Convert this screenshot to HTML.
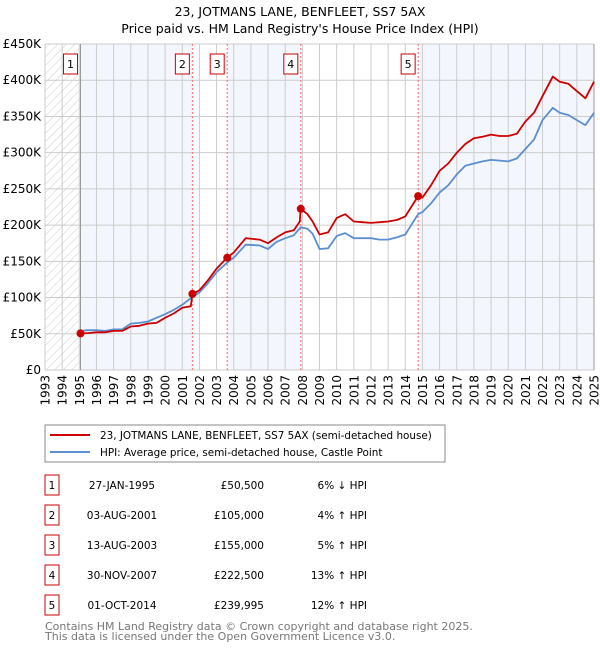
<!DOCTYPE html>
<html><head><meta charset="utf-8"><style>
body{margin:0;background:#fff;font-family:"DejaVu Sans","Liberation Sans",sans-serif;}
svg text{font-family:"DejaVu Sans","Liberation Sans",sans-serif;}
</style></head><body>
<svg id="c" width="600" height="650" xmlns="http://www.w3.org/2000/svg">
<defs><pattern id="hatch" width="6" height="6" patternUnits="userSpaceOnUse" patternTransform="rotate(45)"><line x1="0" y1="0" x2="0" y2="6" stroke="#ccc" stroke-width="1"/></pattern></defs>
<text x="300" y="16" text-anchor="middle" font-size="12.5">23, JOTMANS LANE, BENFLEET, SS7 5AX</text>
<text x="300" y="33" text-anchor="middle" font-size="12.5">Price paid vs. HM Land Registry's House Price Index (HPI)</text>
<g id="plot"></g>
<rect x="45" y="425" width="400" height="37" fill="#fff" stroke="#888"/>
<line x1="50" y1="435" x2="90" y2="435" stroke="#cc0000" stroke-width="2"/>
<text x="100" y="439" font-size="10.4">23, JOTMANS LANE, BENFLEET, SS7 5AX (semi-detached house)</text>
<line x1="50" y1="452" x2="90" y2="452" stroke="#5b8fd0" stroke-width="2"/>
<text x="100" y="456" font-size="10.4">HPI: Average price, semi-detached house, Castle Point</text>
<g id="table"></g>
<text x="45" y="630" font-size="11" fill="#777">Contains HM Land Registry data © Crown copyright and database right 2025.</text>
<text x="45" y="640" font-size="11" fill="#777">This data is licensed under the Open Government Licence v3.0.</text>
</svg>
<script>
const hpiYears=[1995.07,1995.5,1996,1996.5,1997,1997.5,1998,1998.5,1999,1999.5,2000,2000.5,2001,2001.6,2002,2002.5,2003,2003.6,2004,2004.7,2005.5,2006,2006.5,2007,2007.5,2007.9,2008.3,2008.6,2009,2009.5,2010,2010.5,2011,2011.5,2012,2012.5,2013,2013.5,2014,2014.75,2015,2015.5,2016,2016.5,2017,2017.5,2018,2018.5,2019,2019.5,2020,2020.5,2021,2021.5,2022,2022.6,2023,2023.5,2024,2024.5,2025];
const hpiValues=[54,55,55,54,56,56,64,65,67,72,77,83,90,101,107,120,135,148,155,173,172,167,177,182,186,197,195,188,167,168,185,189,182,182,182,180,180,183,187,215,218,230,245,255,270,282,285,288,290,289,288,292,305,318,345,362,355,352,345,338,355];
const redYears=[1995.07,1995.5,1996,1996.5,1997,1997.5,1998,1998.5,1999,1999.5,2000,2000.5,2001,2001.5,2001.6,2002,2002.5,2003,2003.6,2004,2004.7,2005.5,2006,2006.5,2007,2007.5,2007.85,2007.9,2008.3,2008.6,2009,2009.5,2010,2010.5,2011,2011.5,2012,2012.5,2013,2013.5,2014,2014.75,2015,2015.5,2016,2016.5,2017,2017.5,2018,2018.5,2019,2019.5,2020,2020.5,2021,2021.5,2022,2022.6,2023,2023.5,2024,2024.5,2025];
const redValues=[50.5,51,52,52,54,54,60,61,64,65,72,78,86,88,105,110,124,140,155,162,182,180,175,183,190,193,205,222.5,215,205,187,190,210,215,205,204,203,204,205,207,212,240,238,255,275,285,300,312,320,322,325,323,323,326,343,355,378,405,398,395,385,375,398];
const saleYears=[1995.07,2001.59,2003.62,2007.91,2014.75];
const saleValues=[50.5,105,155,222.5,240];
const saleLabels=["1","2","3","4","5"];
const saleDates=["27-JAN-1995","03-AUG-2001","13-AUG-2003","30-NOV-2007","01-OCT-2014"];
const salePrices=["£50,500","£105,000","£155,000","£222,500","£239,995"];
const saleHpi=["6% ↓ HPI","4% ↑ HPI","5% ↑ HPI","13% ↑ HPI","12% ↑ HPI"];
const yTicks=[0,50,100,150,200,250,300,350,400,450];
const yTickLabels=["£0","£50K","£100K","£150K","£200K","£250K","£300K","£350K","£400K","£450K"];
const xTicks=[1993,1994,1995,1996,1997,1998,1999,2000,2001,2002,2003,2004,2005,2006,2007,2008,2009,2010,2011,2012,2013,2014,2015,2016,2017,2018,2019,2020,2021,2022,2023,2024,2025];

const L=45,R=594,T=44,B=370,X0=1993,X1=2025,YMAX=450;
const sx=y=>L+(y-X0)/(X1-X0)*(R-L);
const sy=v=>B-v/YMAX*(B-T);
const NS="http://www.w3.org/2000/svg";
const plot=document.getElementById('plot');
function mk(tag,attrs,parent){const e=document.createElementNS(NS,tag);for(const k in attrs)e.setAttribute(k,attrs[k]);(parent||plot).appendChild(e);return e;}

let r=mk('rect',{x:sx(1993),y:T,width:sx(1995.07)-sx(1993),height:B-T,fill:'url(#hatch)'});


const bands=[[saleYears[0],saleYears[1]],[saleYears[2],saleYears[3]],[saleYears[4],2025]];
bands.forEach(b=>{const e=mk('rect',{x:sx(b[0]),y:T,width:sx(b[1])-sx(b[0]),height:B-T,fill:'#f3f6fd'});

});
xTicks.forEach((t,i)=>{const g=mk('line',{x1:sx(t),x2:sx(t),y1:T,y2:B,stroke:'#ccc','stroke-width':1});


const tx=mk('text',{x:0,y:0,'font-size':12,'text-anchor':'end',transform:`translate(${sx(t)+4.5},${B+5}) rotate(-90)`});tx.textContent=t;

});
yTicks.forEach((t,i)=>{const g=mk('line',{x1:L,x2:R,y1:sy(t),y2:sy(t),stroke:'#ccc','stroke-width':1});


const tx=mk('text',{x:L-4,y:sy(t)+4,'font-size':12,'text-anchor':'end'});tx.textContent=yTickLabels[i];

});
mk('line',{x1:sx(saleYears[0]),x2:sx(saleYears[0]),y1:T,y2:B,stroke:'#999','stroke-width':1});
mk('line',{x1:R,x2:R,y1:T,y2:B,stroke:'#999','stroke-width':1});
saleYears.forEach((y,i)=>{ if(i>0){const v=mk('line',{x1:sx(y),x2:sx(y),y1:T,y2:B,stroke:'#ff6666','stroke-width':1,'stroke-dasharray':'2,2'});

}
const bx=mk('rect',{x:sx(y)-17,y:54,width:14,height:20,fill:'#fff',stroke:'#cc0000'});


const t=mk('text',{x:sx(y)-10,y:68,'font-size':11,'text-anchor':'middle'});t.textContent=saleLabels[i];

});
function line(xs,vs,color,name){const d=xs.map((x,i)=>(i?'L':'M')+sx(x).toFixed(1)+','+sy(vs[i]).toFixed(1)).join('');
const p=mk('path',{d:d,fill:'none',stroke:color,'stroke-width':1.8,'stroke-linejoin':'round'});

}
line(hpiYears,hpiValues,'#5b8fd0','hpi-line');
line(redYears,redValues,'#cc0000','price-paid-line');
saleYears.forEach((y,i)=>{const c=mk('circle',{cx:sx(y),cy:sy(saleValues[i]),r:4,fill:'#cc0000'});

});
const tb=document.getElementById('table');
saleLabels.forEach((l,i)=>{const y0=475+i*30;
const b=mk('rect',{x:45,y:y0,width:14,height:20,fill:'#fff',stroke:'#cc0000'},tb);


const cells=[[52,'middle',l],[122,'middle',saleDates[i]],[264,'end',salePrices[i]],[367,'end',saleHpi[i]]];
cells.forEach(c=>{const t=mk('text',{x:c[0],y:y0+14,'font-size':10.5,'text-anchor':c[1]},tb);t.textContent=c[2];

});});
</script>
</body></html>
